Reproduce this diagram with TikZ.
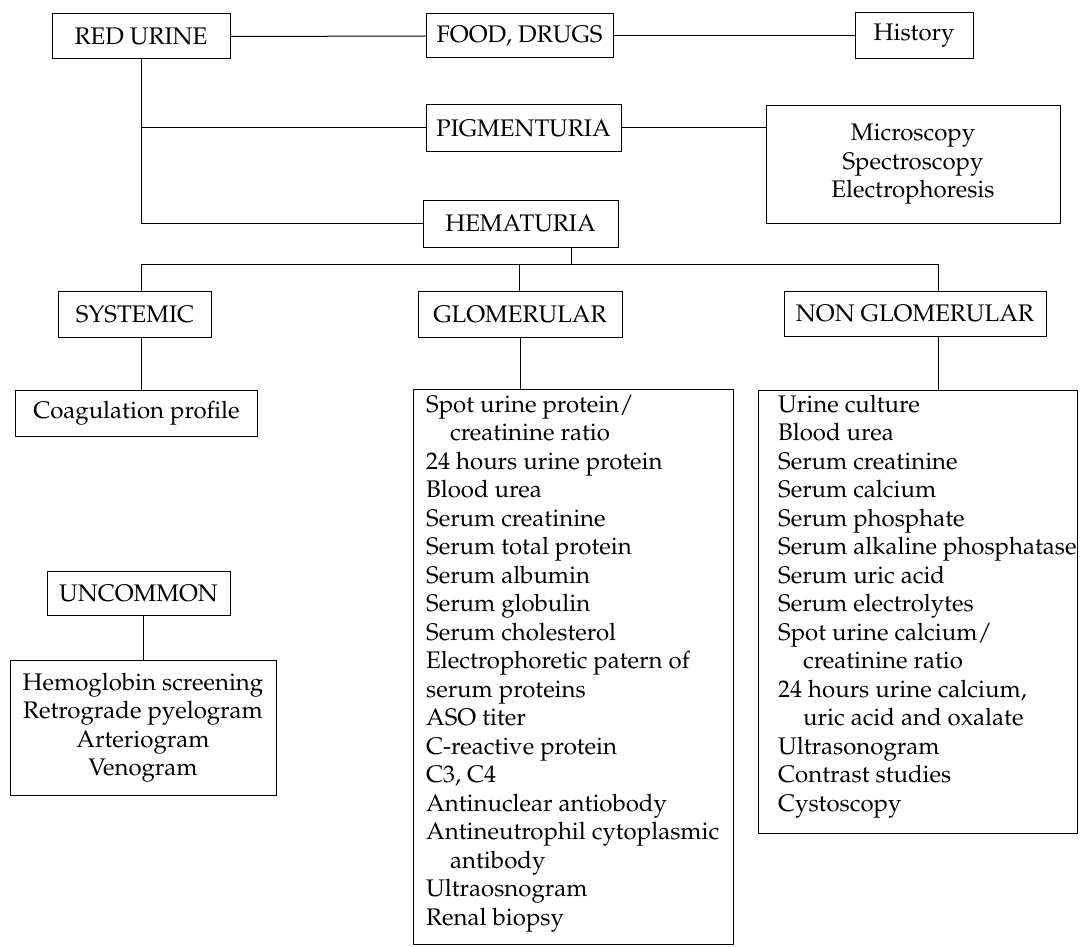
\documentclass[tikz,border=0pt]{standalone}
\usepackage[T1]{fontenc}
\renewcommand{\rmdefault}{ppl}
\begin{document}
\begin{tikzpicture}[x=1pt,y=-1pt,
  box/.style={draw, line width=1pt, inner sep=0pt, align=center, font=\fontsize{24}{28.5}\selectfont},
  txt/.style={inner sep=0pt, align=left, anchor=north west, font=\fontsize{24}{28.5}\selectfont},
  link/.style={line width=1pt}]
\path[use as bounding box] (0,0) rectangle (1081,947);
% top row
\node[box, minimum width=178pt, minimum height=45pt] (red) at (141,36.5) {RED URINE};
\node[box, minimum width=187pt, minimum height=44pt] (food) at (519.5,36) {FOOD, DRUGS};
\node[box, minimum width=118pt, minimum height=46pt] (hist) at (914,36) {History};
\node[box, minimum width=195pt, minimum height=46pt] (pig) at (523.5,128) {PIGMENTURIA};
\node[box, minimum width=294pt, minimum height=117pt] (micro) at (913,164.5) {Microscopy\\Spectroscopy\\Electrophoresis};
\node[box, minimum width=195pt, minimum height=47pt] (hema) at (520.5,223.5) {HEMATURIA};
% second level
\node[box, minimum width=153pt, minimum height=46pt] (sys) at (135,314) {SYSTEMIC};
\node[box, minimum width=204pt, minimum height=46pt] (glom) at (520,314) {GLOMERULAR};
\node[box, minimum width=262pt, minimum height=45pt] (nonglom) at (915,313.5) {NON GLOMERULAR};
\node[box, minimum width=242pt, minimum height=46pt] (coag) at (136.5,413) {Coagulation profile};
% lists
\node[box, minimum width=320pt, minimum height=555pt] (glist) at (573,666.5) {};
\node[txt] (glistT) at (426,394.5) {Spot urine protein/\\
\hspace*{24pt}creatinine ratio\\
24 hours urine protein\\
Blood urea\\
Serum creatinine\\
Serum total protein\\
Serum albumin\\
Serum globulin\\
Serum cholesterol\\
Electrophoretic patern of\\
serum proteins\\
ASO titer\\
C-reactive protein\\
C3, C4\\
Antinuclear antiobody\\
Antineutrophil cytoplasmic\\
\hspace*{24pt}antibody\\
Ultraosnogram\\
Renal biopsy};
\node[box, minimum width=319pt, minimum height=443pt] (nlist) at (917.5,611.5) {};
\node[txt] (nlistT) at (778,394.5) {Urine culture\\
Blood urea\\
Serum creatinine\\
Serum calcium\\
Serum phosphate\\
Serum alkaline phosphatase\\
Serum uric acid\\
Serum electrolytes\\
Spot urine calcium/\\
\hspace*{25pt}creatinine ratio\\
24 hours urine calcium,\\
\hspace*{25pt}uric acid and oxalate\\
Ultrasonogram\\
Contrast studies\\
Cystoscopy};
% uncommon
\node[box, minimum width=183pt, minimum height=44pt] (unc) at (138.5,593) {UNCOMMON};
\node[box, minimum width=266pt, minimum height=135pt] (ulist) at (143,727.5) {Hemoglobin screening\\Retrograde pyelogram\\Arteriogram\\Venogram};
% connectors
\draw[link] (red.east) -- (food.west);
\draw[link] (food.east) -- (hist.west);
\draw[link] (red.south) |- (pig.west);
\draw[link] (red.south) |- (hema.west);
\draw[link] (pig.east) -- (pig.east -| micro.west);
\coordinate (hb) at (571,264);
\coordinate (bl) at (141,264);
\coordinate (bg) at (519,264);
\coordinate (br) at (938,264);
\draw[link] (hb |- hema.south) -- (hb);
\draw[link] (bl) -- (br);
\draw[link] (bl) -- (bl |- sys.north);
\draw[link] (bg) -- (bg |- glom.north);
\draw[link] (br) -- (br |- nonglom.north);
\draw[link] (bl |- sys.south) -- (bl |- coag.north);
\draw[link] (glom.south) -- (glom.south |- glist.north);
\draw[link] (br |- nonglom.south) -- (br |- nlist.north);
\draw[link] (ulist.north |- unc.south) -- (ulist.north);
\end{tikzpicture}
\end{document}
